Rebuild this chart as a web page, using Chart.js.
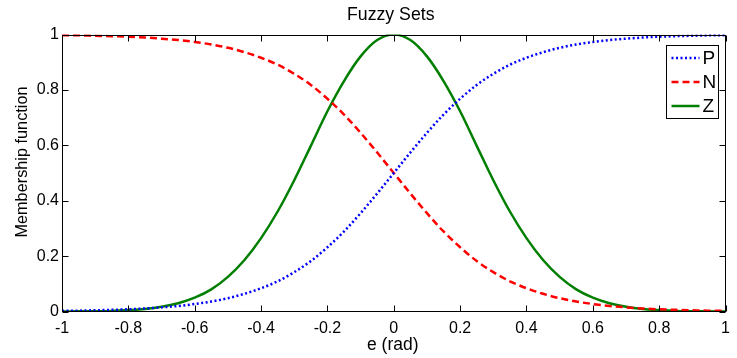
<!DOCTYPE html>
<html>
<head>
<meta charset="utf-8">
<title>Fuzzy Sets</title>
<script src="https://cdn.jsdelivr.net/npm/chart.js@4.4.1/dist/chart.umd.min.js"></script>
<style>
  html, body { margin: 0; padding: 0; background: #fff; }
  #chart { display: block; }
</style>
</head>
<body>
<canvas id="chart" width="737" height="358"></canvas>
<script>
// Error e (rad), sampled every 0.05
const errValues = [-1, -0.95, -0.9, -0.85, -0.8, -0.75, -0.7, -0.65, -0.6, -0.55, -0.5,
  -0.45, -0.4, -0.35, -0.3, -0.25, -0.2, -0.15, -0.1, -0.05, 0,
  0.05, 0.1, 0.15, 0.2, 0.25, 0.3, 0.35, 0.4, 0.45, 0.5,
  0.55, 0.6, 0.65, 0.7, 0.75, 0.8, 0.85, 0.9, 0.95, 1];

// Membership values
const pValues = [0.0025, 0.003, 0.0045, 0.006, 0.008, 0.011, 0.015, 0.020, 0.027, 0.036, 0.048,
  0.064, 0.084, 0.109, 0.142, 0.182, 0.232, 0.289, 0.355, 0.426, 0.500,
  0.574, 0.645, 0.711, 0.768, 0.818, 0.858, 0.891, 0.916, 0.936, 0.952,
  0.964, 0.973, 0.980, 0.985, 0.989, 0.992, 0.994, 0.9955, 0.997, 0.9975];

const nValues = [0.9975, 0.997, 0.9955, 0.994, 0.992, 0.989, 0.985, 0.980, 0.973, 0.964, 0.952,
  0.936, 0.916, 0.891, 0.858, 0.818, 0.768, 0.711, 0.645, 0.574, 0.500,
  0.426, 0.355, 0.289, 0.232, 0.182, 0.142, 0.109, 0.084, 0.064, 0.048,
  0.036, 0.027, 0.020, 0.015, 0.011, 0.008, 0.006, 0.0045, 0.003, 0.0025];

const zValues = [0.0002, 0.0005, 0.001, 0.002, 0.005, 0.009, 0.017, 0.030, 0.050, 0.080, 0.125,
  0.186, 0.265, 0.361, 0.474, 0.598, 0.723, 0.832, 0.921, 0.980, 1.000,
  0.980, 0.921, 0.832, 0.723, 0.598, 0.474, 0.361, 0.265, 0.186, 0.125,
  0.080, 0.050, 0.030, 0.017, 0.009, 0.005, 0.002, 0.001, 0.0005, 0.0002];

// Axis ticks
const xTicks = [-1, -0.8, -0.6, -0.4, -0.2, 0, 0.2, 0.4, 0.6, 0.8, 1];
const xTickLabels = ['-1', '-0.8', '-0.6', '-0.4', '-0.2', '0', '0.2', '0.4', '0.6', '0.8', '1'];
const yTicks = [0, 0.2, 0.4, 0.6, 0.8, 1];
const yTickLabels = ['0', '0.2', '0.4', '0.6', '0.8', '1'];

const FONT = "'Liberation Sans', Arial, Helvetica, sans-serif";

function toPoints(values) {
  return values.map((v, i) => ({ x: errValues[i], y: v }));
}

// Title and axis labels, placed like the MATLAB figure
const figureText = {
  id: 'figureText',
  afterDraw(chart, args, opts) {
    const { ctx, chartArea: a } = chart;
    const cx = (a.left + a.right) / 2;
    ctx.save();
    ctx.fillStyle = '#000';
    ctx.textAlign = 'center';
    ctx.textBaseline = 'alphabetic';
    ctx.font = '17.7px ' + FONT;
    ctx.fillText(opts.title, cx - 3, 20);
    ctx.font = '17.5px ' + FONT;
    ctx.fillText(opts.xLabel, cx - 1, 349.5);
    ctx.translate(26.5, 162);
    ctx.rotate(-Math.PI / 2);
    ctx.font = '16.3px ' + FONT;
    ctx.fillText(opts.yLabel, 0, 0);
    ctx.restore();
  }
};

// Box around the plot with inward ticks on all four sides
const boxTicks = {
  id: 'boxTicks',
  afterDatasetsDraw(chart) {
    const { ctx, chartArea: a, scales: { x, y } } = chart;
    const len = 6;
    const L = Math.round(a.left) + 0.5, R = Math.round(a.right) - 0.5;
    const T = Math.round(a.top) + 0.5, B = Math.round(a.bottom) - 0.5;
    ctx.save();
    ctx.strokeStyle = '#000';
    ctx.lineWidth = 1;
    ctx.beginPath();
    x.ticks.forEach(t => {
      const px = Math.round(x.getPixelForValue(t.value)) + 0.5;
      ctx.moveTo(px, B); ctx.lineTo(px, B - len);
      ctx.moveTo(px, T); ctx.lineTo(px, T + len);
    });
    y.ticks.forEach(t => {
      const py = Math.round(y.getPixelForValue(t.value)) + 0.5;
      ctx.moveTo(L, py); ctx.lineTo(L + len, py);
      ctx.moveTo(R, py); ctx.lineTo(R - len, py);
    });
    ctx.stroke();
    ctx.strokeRect(L, T, R - L, B - T);
    ctx.restore();
  }
};

// Legend box in the upper right corner of the plot
const boxLegend = {
  id: 'boxLegend',
  afterDraw(chart) {
    const { ctx, chartArea: a } = chart;
    const w = 52, h = 73;
    const bx = Math.round(a.right - 8 - w) + 0.5;
    const by = Math.round(a.top + 10) + 0.5;
    ctx.save();
    ctx.fillStyle = '#fff';
    ctx.fillRect(bx, by, w, h);
    ctx.strokeStyle = '#000';
    ctx.lineWidth = 1;
    ctx.strokeRect(bx, by, w, h);
    ctx.font = '19px ' + FONT;
    ctx.textBaseline = 'middle';
    ctx.textAlign = 'left';
    chart.data.datasets.forEach((ds, i) => {
      const ly = by + 12.5 + i * 24;
      ctx.beginPath();
      ctx.strokeStyle = ds.borderColor;
      ctx.lineWidth = ds.borderWidth;
      ctx.setLineDash(ds.borderDash || []);
      ctx.moveTo(bx + 5, ly);
      ctx.lineTo(bx + 33, ly);
      ctx.stroke();
      ctx.setLineDash([]);
      ctx.fillStyle = '#000';
      ctx.fillText(ds.label, bx + 36, ly + 1);
    });
    ctx.restore();
  }
};

new Chart(document.getElementById('chart'), {
  type: 'line',
  data: {
    datasets: [
      {
        label: 'P',
        data: toPoints(pValues),
        borderColor: '#0000ff',
        borderWidth: 2.5,
        borderDash: [2, 2.5],
        pointRadius: 0,
        cubicInterpolationMode: 'monotone',
        fill: false
      },
      {
        label: 'N',
        data: toPoints(nValues),
        borderColor: '#ff0000',
        borderWidth: 2.5,
        borderDash: [7, 4],
        pointRadius: 0,
        cubicInterpolationMode: 'monotone',
        fill: false
      },
      {
        label: 'Z',
        data: toPoints(zValues),
        borderColor: '#007f00',
        borderWidth: 2.5,
        pointRadius: 0,
        cubicInterpolationMode: 'monotone',
        fill: false
      }
    ]
  },
  options: {
    responsive: false,
    animation: false,
    layout: { padding: { left: 0, right: 8, top: 34.5, bottom: 0 } },
    plugins: {
      legend: { display: false },
      tooltip: { enabled: false },
      title: { display: false },
      figureText: {
        title: 'Fuzzy Sets',
        xLabel: 'e (rad)',
        yLabel: 'Membership function'
      }
    },
    scales: {
      x: {
        type: 'linear',
        min: -1,
        max: 1,
        afterBuildTicks: scale => { scale.ticks = xTicks.map(v => ({ value: v })); },
        afterFit: scale => { scale.height = 46.5; },
        grid: { display: false, drawTicks: false },
        border: { display: false },
        ticks: {
          color: '#000',
          padding: 7,
          maxRotation: 0,
          autoSkip: false,
          font: { family: FONT, size: 16 },
          callback: (v, i) => xTickLabels[i]
        }
      },
      y: {
        type: 'linear',
        min: 0,
        max: 1,
        afterBuildTicks: scale => { scale.ticks = yTicks.map(v => ({ value: v })); },
        afterFit: scale => { scale.width = 62; },
        grid: { display: false, drawTicks: false },
        border: { display: false },
        ticks: {
          color: '#000',
          padding: 3,
          autoSkip: false,
          font: { family: FONT, size: 16 },
          callback: (v, i) => yTickLabels[i]
        }
      }
    }
  },
  plugins: [boxTicks, boxLegend, figureText]
});
</script>
</body>
</html>
